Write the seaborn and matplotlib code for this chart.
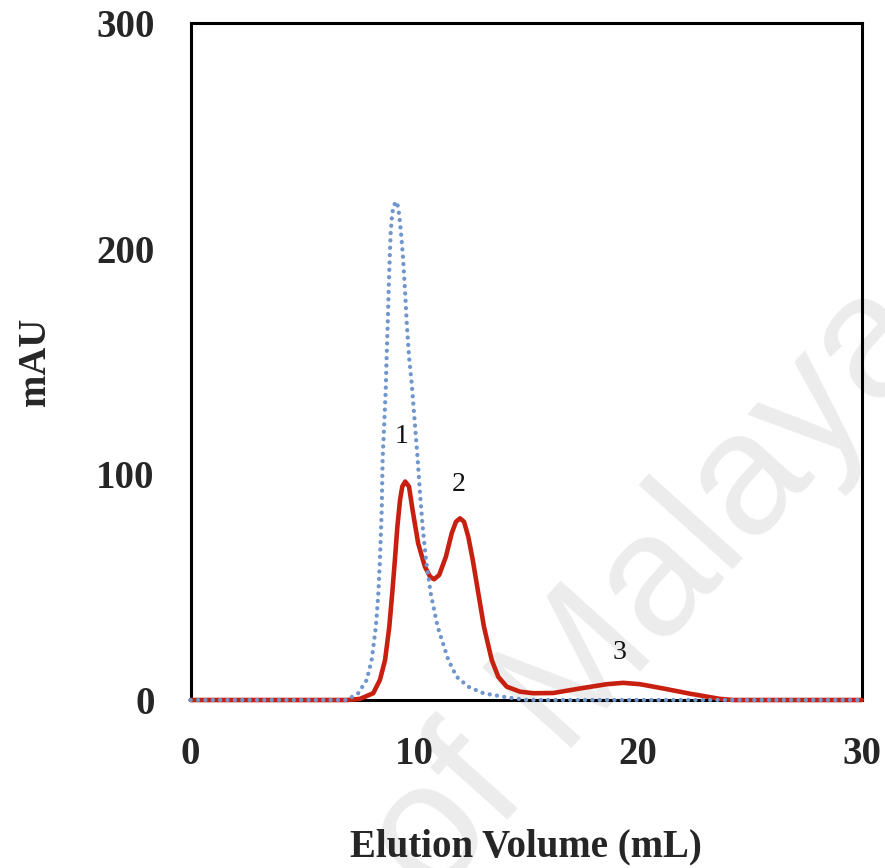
import numpy as np
import pandas as pd
import matplotlib
matplotlib.use("Agg")
import matplotlib.pyplot as plt
import seaborn as sns

# Blue dotted trace (elution volume in mL, absorbance in mAU)
blue_x = [0, 6.5, 6.97, 7.49, 7.87, 8.09, 8.28, 8.39, 8.46, 8.54, 8.58, 8.72, 8.76,
          8.81, 8.85, 8.9, 8.94, 9.01, 9.09, 9.21, 9.28, 9.36, 9.43, 9.49, 9.58,
          9.66, 9.76, 9.88, 10.15, 10.25, 10.37, 10.52, 10.73, 11.04, 11.52, 11.89,
          12.41, 13.08, 14.13, 15.02, 30]
blue_y = [0, 0, 0, 3.0, 8.9, 17.7, 32.5, 47.3, 62.1, 84.2, 106.4, 137.4, 152.2,
          167.0, 181.7, 196.5, 206.9, 215.7, 219.4, 220.9, 218.0, 211.3, 203.9, 196.5, 181.7,
          167.0, 152.2, 140.4, 106.4, 91.6, 76.8, 62.1, 47.3, 32.5, 17.7, 10.3,
          5.9, 3.0, 1.2, 0, 0]

# Red solid trace
red_x = [0, 7.0, 7.57, 8.16, 8.46, 8.69, 8.88, 9.01, 9.13, 9.24, 9.36, 9.46, 9.59,
         9.76, 9.92, 10.17, 10.47, 10.7, 10.88, 11.11, 11.41, 11.67, 11.86, 12.04,
         12.22, 12.41, 12.61, 12.86, 13.11, 13.46, 13.75, 14.13, 14.72, 15.32,
         16.21, 17.4, 18.6, 19.34, 20.09, 21.13, 22.32, 23.66, 24.26, 30]
red_y = [0, 0, 0.5, 3.0, 8.9, 17.7, 32.5, 47.3, 62.1, 76.8, 88.7, 94.6, 96.8,
         94.6, 84.2, 69.4, 59.1, 54.7, 53.5, 55.4, 63.5, 73.9, 79.0, 80.5,
         79.0, 72.4, 62.1, 47.3, 32.5, 17.7, 10.3, 5.9, 3.7, 3.0,
         3.1, 5.1, 7.0, 7.6, 7.0, 5.1, 2.8, 0.5, 0, 0]

# Peak labels
peak_labels = ["1", "2", "3"]
peak_x = [9.43, 12.0, 19.19]
peak_y = [116.8, 95.6, 21.0]

x_ticks = [0, 10, 20, 30]
y_ticks = [0, 100, 200, 300]

sns.set_theme(style="white")
plt.rcParams['font.family'] = ['Liberation Serif', 'DejaVu Serif']

fig = plt.figure(figsize=(8.85, 8.68), dpi=100)
ax = fig.add_axes([190.7 / 885, 1 - 700 / 868, 671 / 885, 677 / 868])
ax.patch.set_alpha(0)

# watermark behind everything
fig.text(0.488, -0.04, "of Malaya", rotation=48, rotation_mode="anchor",
         ha="left", va="baseline", fontsize=126, color="#ececec",
         family="Liberation Sans", zorder=-1)

red_df = pd.DataFrame({"x": red_x, "y": red_y})
blue_df = pd.DataFrame({"x": blue_x, "y": blue_y})

sns.lineplot(data=red_df, x="x", y="y", ax=ax, color="#c82010", linewidth=3.3,
             zorder=4, clip_on=False, sort=False)
sns.lineplot(data=blue_df, x="x", y="y", ax=ax, color="#7096cc", linewidth=3.1,
             linestyle=(0, (0.01, 1.7)), dash_capstyle="round",
             zorder=5, clip_on=False, sort=False)

for lab, px, py in zip(peak_labels, peak_x, peak_y):
    ax.text(px, py, lab, ha="center", va="center", fontsize=20, color="#111111")

ax.set_xlim(0, 30)
ax.set_ylim(0, 300)
ax.set_xticks(x_ticks)
ax.set_yticks(y_ticks)
ax.tick_params(direction="in", length=8, width=1.6, color="black",
               labelsize=28, pad=26)
for lbl in ax.get_xticklabels() + ax.get_yticklabels():
    lbl.set_fontweight("bold")

for sp in ax.spines.values():
    sp.set_linewidth(2.2)
    sp.set_color("black")

ax.set_xlabel("Elution Volume (mL)", fontsize=28, fontweight="bold")
ax.set_ylabel("mAU", fontsize=28, fontweight="bold")
ax.xaxis.set_label_coords(0.5, -0.19)
ax.yaxis.set_label_coords(-0.203, 0.5)

fig.savefig("out.png", dpi=100)
